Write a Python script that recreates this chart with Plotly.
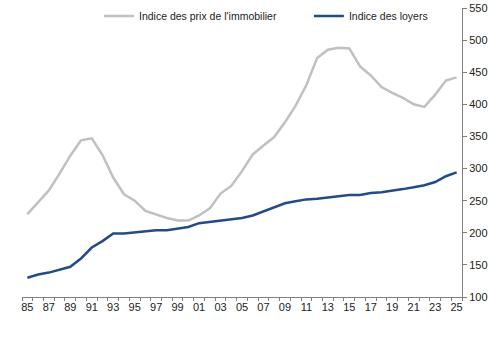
import plotly.graph_objects as go

years = list(range(1985, 2026))
prix = [229, 247, 266, 292, 320, 344, 347, 321, 286, 260, 250, 234, 228, 223, 219, 219, 227, 238, 261, 273,
        296, 322, 336, 349, 372, 398, 430, 472, 485, 488, 487, 459, 445, 427, 418, 410, 400, 396, 415, 437, 442]
loyers = [130, 135, 138, 142, 147, 160, 177, 187, 199, 199, 201, 202, 204, 204, 206, 209, 215, 217, 218, 220,
          223, 227, 233, 239, 246, 249, 252, 253, 255, 258, 259, 259, 262, 263, 265, 268, 271, 274, 279, 288, 294]
label_years = years[::2]
tick_labels = [str(y)[-2:] for y in label_years]
yticks = [100, 150, 200, 250, 300, 350, 400, 450, 500, 550]

fig = go.Figure()
fig.add_trace(go.Scatter(x=years, y=prix, mode="lines", name="Indice des prix de l'immobilier",
                         line=dict(color="#C0C0C0", width=2.5), legend="legend"))
fig.add_trace(go.Scatter(x=years, y=loyers, mode="lines", name="Indice des loyers",
                         line=dict(color="#234B85", width=2.5), legend="legend2"))

leg_common = dict(orientation="h", yanchor="middle", xanchor="left", y=0.972,
                  bgcolor="rgba(0,0,0,0)", font=dict(size=10.5), itemwidth=30)

fig.update_layout(
    width=492, height=340,
    margin=dict(l=22, r=30, t=8, b=43, autoexpand=False),
    paper_bgcolor="white", plot_bgcolor="white",
    font=dict(family="Liberation Sans, Arial, sans-serif", size=11, color="#222222"),
    showlegend=True,
    legend=dict(x=0.175, **leg_common),
    legend2=dict(x=0.652, **leg_common),
    xaxis=dict(range=[1984.5, 2025.5], tickvals=label_years, ticktext=tick_labels,
               ticks="", showgrid=False, zeroline=False, showline=True, linecolor="#808080", linewidth=1,
               tickfont=dict(size=11),
               minor=dict(tickvals=[y - 0.5 for y in years] + [2025.5], ticks="outside", ticklen=3,
                          tickcolor="#808080", showgrid=False)),
    yaxis=dict(range=[100, 550], side="right", tickvals=yticks, showgrid=False, zeroline=False,
               showline=True, linecolor="#808080", linewidth=1, ticks="outside", ticklen=4,
               tickcolor="#808080", tickfont=dict(size=11)),
)
fig.write_html("out.html")
